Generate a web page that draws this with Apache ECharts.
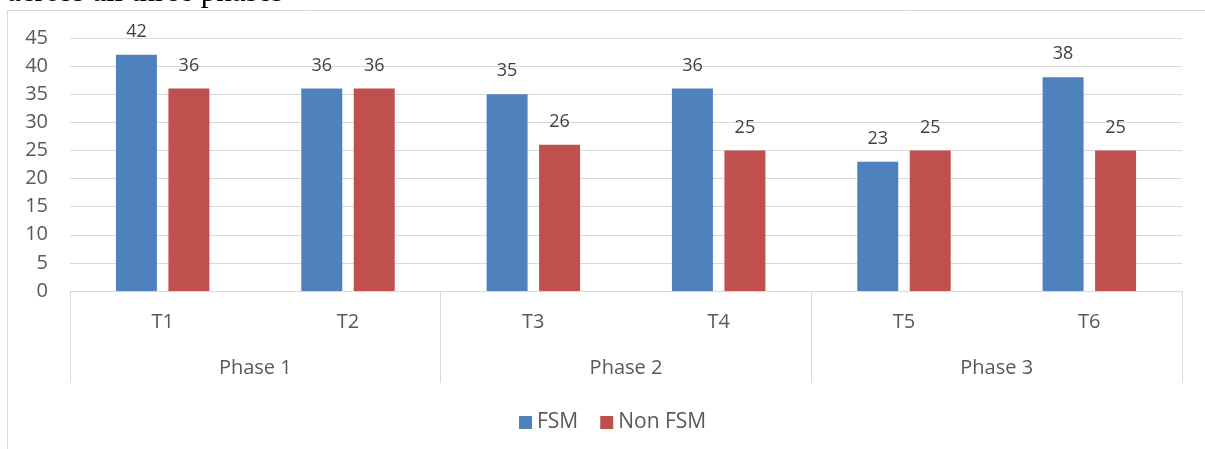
<!DOCTYPE html>
<html>
<head>
<meta charset="utf-8">
<script src="https://cdn.jsdelivr.net/npm/echarts@6/dist/echarts.min.js"></script>
<style>
  html, body { margin: 0; padding: 0; background: #ffffff; }
  #chart { width: 1205px; height: 449px; }
</style>
</head>
<body>
<div id="chart"></div>
<script>
// Test sessions, grouped into three phases
const sessions = ['T1', 'T2', 'T3', 'T4', 'T5', 'T6'];
const phases = ['Phase 1', 'Phase 2', 'Phase 3'];
const fsmValues = [42, 36, 35, 36, 23, 38];
const nonFsmValues = [36, 36, 26, 25, 25, 25];
const yTicks = { min: 0, max: 45, interval: 5 };

const FONT = '"Open Sans", "Liberation Sans", sans-serif';
const GRID_GREY = '#d9d9d9';
const LABEL_GREY = '#595959';

const chart = echarts.init(document.getElementById('chart'), null, { renderer: 'canvas' });

const valueLabel = {
  show: true,
  position: 'top',
  distance: 14,
  color: '#404040',
  fontFamily: FONT,
  fontSize: 18
};

chart.setOption({
  animation: false,
  backgroundColor: '#ffffff',
  textStyle: { fontFamily: FONT },
  graphic: [
    // caption text running above the chart frame
    {
      type: 'text',
      left: 7,
      top: -23,
      silent: true,
      style: {
        text: 'across all three phases',
        font: '31px "Liberation Serif", "DejaVu Serif", serif',
        fill: '#000000'
      }
    },
    // chart frame edges
    {
      type: 'line',
      silent: true,
      shape: { x1: 7, y1: 10.5, x2: 1205, y2: 10.5 },
      style: { stroke: GRID_GREY, lineWidth: 1 }
    },
    {
      type: 'line',
      silent: true,
      shape: { x1: 7.5, y1: 10, x2: 7.5, y2: 449 },
      style: { stroke: GRID_GREY, lineWidth: 1 }
    }
  ],
  legend: {
    data: ['FSM', 'Non FSM'],
    left: 514,
    top: 407,
    icon: 'rect',
    itemWidth: 13,
    itemHeight: 13,
    itemGap: 22,
    textStyle: { color: LABEL_GREY, fontFamily: FONT, fontSize: 21 }
  },
  grid: { left: 70, right: 23, top: 38, bottom: 158, containLabel: false },
  xAxis: [
    {
      type: 'category',
      position: 'bottom',
      data: sessions,
      axisLine: { show: true, lineStyle: { color: GRID_GREY, width: 1 } },
      axisTick: { show: false },
      axisLabel: { color: LABEL_GREY, fontFamily: FONT, fontSize: 20, margin: 21 }
    },
    {
      type: 'category',
      position: 'bottom',
      data: phases,
      axisLine: { show: false },
      axisTick: { show: true, length: 92, interval: 0, lineStyle: { color: GRID_GREY, width: 1 } },
      axisLabel: { color: LABEL_GREY, fontFamily: FONT, fontSize: 20, margin: 67 }
    }
  ],
  yAxis: {
    type: 'value',
    min: yTicks.min,
    max: yTicks.max,
    interval: yTicks.interval,
    axisLine: { show: false },
    axisTick: { show: false },
    splitLine: { lineStyle: { color: GRID_GREY, width: 1 } },
    axisLabel: { color: LABEL_GREY, fontFamily: FONT, fontSize: 20, margin: 22 }
  },
  series: [
    {
      name: 'FSM',
      type: 'bar',
      xAxisIndex: 0,
      data: fsmValues,
      barWidth: 41,
      barGap: '28%',
      itemStyle: { color: '#4f81bd' },
      label: valueLabel
    },
    {
      name: 'Non FSM',
      type: 'bar',
      xAxisIndex: 0,
      data: nonFsmValues,
      barWidth: 41,
      barGap: '28%',
      itemStyle: { color: '#c0504d' },
      label: valueLabel
    }
  ]
});
</script>
</body>
</html>
